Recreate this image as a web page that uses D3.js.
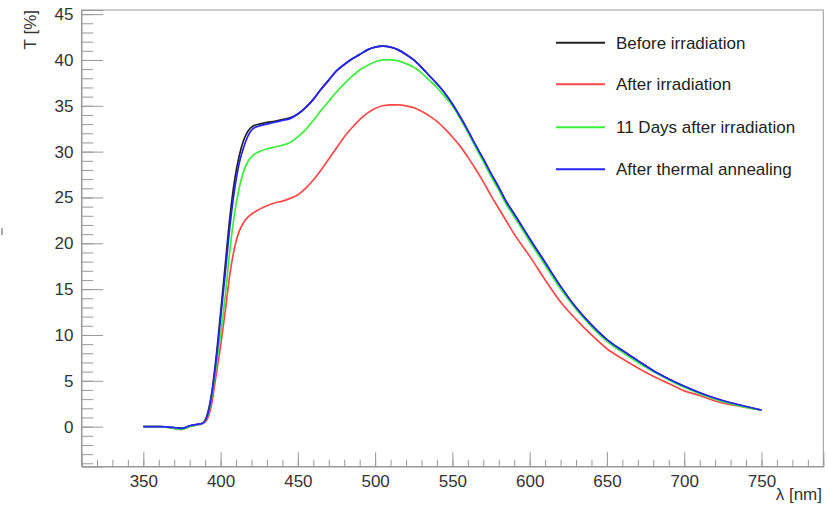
<!DOCTYPE html>
<html lang="en">
<head>
<meta charset="UTF-8">
<title>Transmittance vs wavelength</title>
<script src="https://d3js.org/d3.v7.min.js"></script>
<style>
  html,body{margin:0;padding:0;background:#fff}
  svg{display:block;font-family:"Liberation Sans",Arial,Helvetica,sans-serif}
  .tick text{fill:#333;font-size:17px}
  .axis .domain{stroke:#999}
  .axis line{stroke:#999}
</style>
</head>
<body>
<svg id="chart" width="828" height="509"></svg>
<script>
/* --- data --- */
const wavelength=[350,360,370,375,380,385,388,391,394,397,400,403,406,409,412,415,418,421,425,430,
  435,440,445,450,455,460,465,470,475,480,485,490,495,500,505,510,515,520,525,530,535,540,545,550,
  555,560,565,570,575,580,585,590,600,610,620,630,640,650,660,670,680,690,700,710,720,730,740,750];

const beforeIrr=[0,0,-0.1,-0.2,0.1,0.25,0.35,1.1,3.4,7.4,12.4,17.6,22.8,26.8,29.5,31.3,32.3,32.8,33.0,33.2,
  33.3,33.5,33.7,34.1,34.8,35.7,36.8,37.8,38.8,39.5,40.1,40.6,41.1,41.4,41.5,41.4,41.1,40.6,40.0,39.2,38.3,37.4,36.4,35.2,
  33.8,32.3,30.7,29.2,27.6,26.1,24.5,23.2,20.5,17.9,15.3,13.0,11.1,9.5,8.3,7.2,6.1,5.2,4.4,3.7,3.1,2.6,2.2,1.8];

const afterIrr=[0,0,-0.2,-0.3,0,0.2,0.3,0.7,2.3,5.5,8.8,12.6,16.6,19.5,21.3,22.3,22.9,23.3,23.7,24.1,
  24.4,24.6,24.9,25.3,26.0,26.9,28.0,29.2,30.4,31.6,32.6,33.5,34.2,34.7,35.0,35.1,35.1,35.0,34.8,34.4,33.9,33.3,32.5,31.6,
  30.6,29.4,28.1,26.7,25.2,23.8,22.4,21.0,18.6,16.0,13.6,11.7,10.0,8.5,7.4,6.4,5.5,4.7,3.9,3.4,2.8,2.4,2.1,1.8];

const days11=[0,0,-0.2,-0.3,0,0.2,0.35,0.9,3.0,6.5,10.0,14.2,19.2,23.2,26.0,27.9,29.0,29.6,30.0,30.3,
  30.5,30.7,31.0,31.6,32.4,33.4,34.5,35.5,36.5,37.4,38.2,38.9,39.4,39.8,40.0,40.0,39.9,39.6,39.2,38.6,37.8,37.0,36.0,35.0,
  33.6,32.1,30.5,28.9,27.3,25.8,24.2,22.9,20.2,17.6,15.0,12.8,10.9,9.3,8.1,7.0,6.0,5.1,4.3,3.6,3.0,2.5,2.1,1.8];

const annealed=[0,0,-0.1,-0.2,0.1,0.25,0.35,1.0,3.2,7.0,11.8,16.7,21.8,25.8,28.7,30.5,31.8,32.5,32.8,33.0,
  33.2,33.4,33.6,34.1,34.8,35.7,36.8,37.8,38.8,39.5,40.1,40.6,41.1,41.4,41.5,41.4,41.1,40.6,40.0,39.2,38.3,37.4,36.4,35.2,
  33.8,32.3,30.7,29.2,27.6,26.1,24.5,23.2,20.5,17.9,15.3,13.0,11.1,9.5,8.3,7.2,6.1,5.2,4.4,3.7,3.1,2.6,2.2,1.8];

const seriesNames=["Before irradiation","After irradiation","11 Days after irradiation","After thermal annealing"];
const seriesValues=[beforeIrr,afterIrr,days11,annealed];
const seriesColors=["#222","#ff4848","#3cee3c","#2424ff"];

const xTicks=[350,400,450,500,550,600,650,700,750];
const yTicks=[0,5,10,15,20,25,30,35,40,45];

/* --- layout --- */
const svg=d3.select("#chart");
const L=81.5,R=823.3,T=10,B=466.5;
const x=d3.scaleLinear().domain([310,790]).range([L,R]);
const y=d3.scaleLinear().domain([-4.35,45.45]).range([B,T]);

/* frame */
svg.append("rect").attr("x",L).attr("y",T).attr("width",R-L).attr("height",B-T)
   .attr("fill","none").attr("stroke","#999").attr("stroke-width",1);

/* minor ticks */
svg.append("g").attr("class","axis").attr("transform",`translate(${L},0)`)
   .call(d3.axisLeft(y).tickValues(d3.range(-4,46,1)).tickSize(-11.7).tickFormat(""))
   .select(".domain").remove();
svg.append("g").attr("class","axis").attr("transform",`translate(0,${B})`)
   .call(d3.axisBottom(x).tickValues(d3.range(310,791,10)).tickSize(-6.7).tickFormat(""))
   .select(".domain").remove();

/* major ticks */
svg.append("g").attr("class","axis").attr("transform",`translate(${L},0)`)
   .call(d3.axisLeft(y).tickValues(yTicks).tickSize(-21.7).tickPadding(8));
svg.append("g").attr("class","axis").attr("transform",`translate(0,${B})`)
   .call(d3.axisBottom(x).tickValues(xTicks).tickSize(-14.3).tickPadding(8));

/* axis titles */
svg.append("text").attr("x",822).attr("y",500).attr("text-anchor","end")
   .attr("font-size",17).attr("fill","#333").text("λ [nm]");
svg.append("text").attr("transform","translate(36,10) rotate(-90)").attr("text-anchor","end")
   .attr("font-size",17).attr("fill","#333").text("T [%]");

/* stray mark at left edge */
svg.append("line").attr("x1",2).attr("x2",2).attr("y1",228).attr("y2",235)
   .attr("stroke","#aaa").attr("stroke-width",2);

/* curves */
const line=d3.line().curve(d3.curveMonotoneX);
seriesValues.forEach((vals,i)=>{
  svg.append("path")
     .attr("d",line(wavelength.map((w,j)=>[x(w),y(vals[j])])))
     .attr("fill","none").attr("stroke",seriesColors[i]).attr("stroke-width",1.7);
});

/* legend */
const legY=[42.7,84.3,127.3,169.3];
seriesNames.forEach((name,i)=>{
  svg.append("line").attr("x1",556).attr("x2",605).attr("y1",legY[i]).attr("y2",legY[i])
     .attr("stroke",seriesColors[i]).attr("stroke-width",2);
  svg.append("text").attr("x",616).attr("y",legY[i]).attr("dy","0.35em")
     .attr("font-size",17).attr("fill","#222").text(name);
});
</script>
</body>
</html>
